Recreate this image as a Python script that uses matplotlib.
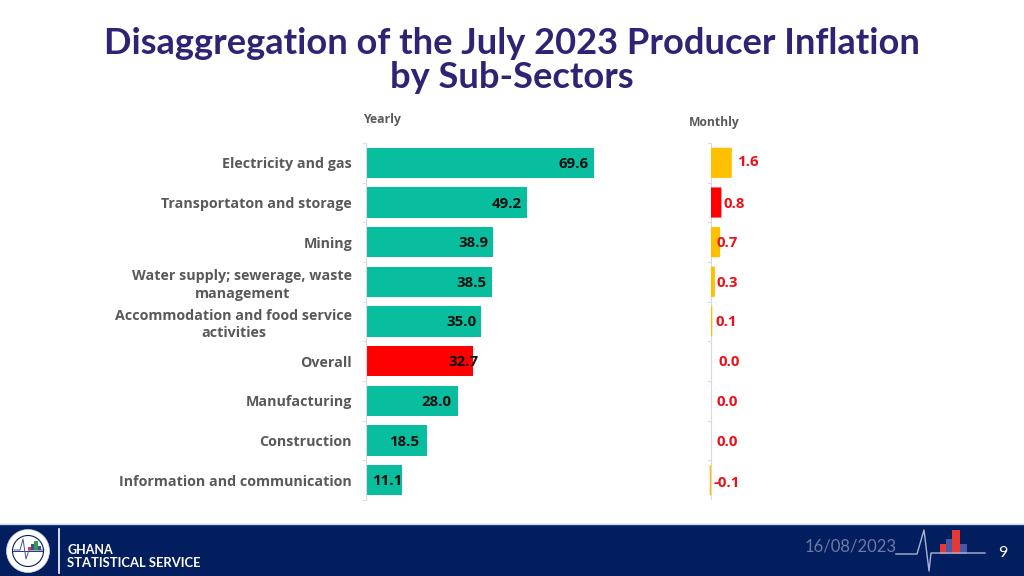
import matplotlib
matplotlib.use('Agg')
import matplotlib.pyplot as plt
from matplotlib.patches import Circle, Rectangle

plt.rcParams['font.family'] = ['Lato', 'DejaVu Sans']
LABEL_FONT = ['Open Sans', 'DejaVu Sans']

W, H = 1024, 576

categories = ['Electricity and gas', 'Transportaton and storage', 'Mining',
              'Water supply; sewerage, waste\nmanagement',
              'Accommodation and food service\nactivities', 'Overall',
              'Manufacturing', 'Construction', 'Information and communication']
yearly = [69.6, 49.2, 38.9, 38.5, 35.0, 32.7, 28.0, 18.5, 11.1]
monthly = [1.6, 0.8, 0.7, 0.3, 0.1, 0.0, 0.0, 0.0, -0.1]

TEAL = '#09BD9F'
RED = '#FF0000'
AMBER = '#FFC000'
GREY = '#595959'
TITLE = '#2F2376'
NAVY = '#021E5E'

yearly_colors = [RED if c == 'Overall' else TEAL for c in categories]
monthly_colors = [AMBER, RED, AMBER, AMBER, AMBER, AMBER, AMBER, AMBER, AMBER]

# label nudges from the bar end, in pixels
yearly_nudge = [-20, -20, -20, -21, -19, -10, -21, -22, -15]
monthly_nudge = [16, 13, 7, 12, 14, 18, 16, 16, 17]
monthly_nudge_y = [2, 0, 0, 0, 0, 0, 0, 0, -2]


def px_axes(fig, left, top, right, bottom):
    return fig.add_axes([left / W, 1 - bottom / H, (right - left) / W, (bottom - top) / H])


fig = plt.figure(figsize=(W / 100, H / 100), dpi=100, facecolor='white')

# whole-slide layer in pixel coordinates
bg = fig.add_axes([0, 0, 1, 1])
bg.set_xlim(0, W)
bg.set_ylim(H, 0)
bg.axis('off')

bg.text(511.5, 43, 'Disaggregation of the July 2023 Producer Inflation', ha='center', va='center',
        fontsize=26.1, fontweight='bold', color=TITLE)
bg.text(512, 77.5, 'by Sub-Sectors', ha='center', va='center', fontsize=26.1, fontweight='bold', color=TITLE)
bg.text(363, 120, 'Yearly', ha='left', va='center', fontsize=8.8, fontweight='bold', color=GREY, family=LABEL_FONT)
bg.text(689, 122.5, 'Monthly', ha='left', va='center', fontsize=8.7, fontweight='bold', color=GREY, family=LABEL_FONT)

# footer band
bg.add_patch(Rectangle((0, 524), W, 52, color=NAVY, lw=0))
bg.plot([0, W], [524, 524], color='#BFD9EA', lw=1)
bg.plot([59, 59], [529, 573], color='white', lw=1.2)
bg.text(67, 550, 'GHANA', color='white', fontsize=9, fontweight='bold', va='center')
bg.text(67, 563, 'STATISTICAL SERVICE', color='white', fontsize=9.4, fontweight='bold', va='center')

# logo
bg.add_patch(Circle((28, 551), 21.5, fc='white', ec='#C9D3E6', lw=0.5, zorder=3))
bg.add_patch(Circle((28, 551), 15.5, fc='white', ec=NAVY, lw=0.8, zorder=4))
bg.plot([13, 43], [551, 551], color=NAVY, lw=0.6, zorder=5)
bg.plot([14, 20, 23, 26, 29, 44], [550, 550, 539, 559, 550, 550], color='#4A4F9A', lw=0.7, zorder=5)
for x, y, w, c in [(28, 547, 3, '#E53935'), (31, 544, 3, '#3D4DA0'), (34, 541, 4, '#2E9E4F'), (38, 546, 3, '#3D4DA0')]:
    bg.add_patch(Rectangle((x, y), w, 550 - y, color=c, lw=0, zorder=6))

# date, pulse and page number
bg.text(850.5, 546, '16/08/2023', color='#6A7BA6', fontsize=12, ha='center', va='center')
bg.plot([896, 917, 924, 929, 931, 935, 940, 985], [554, 554, 530, 571, 553, 553, 553, 553], color='#A9B4D6', lw=1)
for x, y, w, c in [(940, 544, 6, '#E53935'), (946, 539, 6, '#4A57A6'), (952, 530, 8, '#E53935'), (960, 544, 7, '#4A57A6')]:
    bg.add_patch(Rectangle((x, y), w, 554 - y, color=c, lw=0))
bg.text(1003, 553, '9', color='white', fontsize=11.5, ha='center', va='center')

positions = list(range(len(categories)))
boundaries = [p - 0.5 for p in positions] + [len(categories) - 0.5]

# yearly panel
ax = px_axes(fig, 366, 143, 640, 500)
ax.patch.set_alpha(0)
ax.barh(positions, yearly, height=0.76, color=yearly_colors)
ax.set_xlim(0, 274 / 3.276)
ax.set_ylim(len(categories) - 0.5, -0.5)
ax.set_yticks(positions)
ax.set_yticklabels(categories, fontsize=10.3, fontweight='bold', color=GREY, linespacing=1.3, family=LABEL_FONT)
for lab in ax.get_yticklabels():
    lab.set_multialignment('center')
ax.tick_params(axis='y', which='major', length=0, pad=10)
ax.set_yticks(boundaries, minor=True)
ax.tick_params(axis='y', which='minor', length=3, color='#D9D9D9')
ax.xaxis.set_visible(False)
for s in ['top', 'right', 'bottom']:
    ax.spines[s].set_visible(False)
ax.spines['left'].set_color('#D9D9D9')
for p, v, n in zip(positions, yearly, yearly_nudge):
    ax.annotate(f'{v:.1f}', (v, p), xytext=(n, -1), textcoords='offset pixels', ha='center', va='center',
                fontsize=10.8, fontweight='bold', color='#111111', family=LABEL_FONT)

# monthly panel
ax2 = px_axes(fig, 680, 143, 780, 500)
ax2.patch.set_alpha(0)
bars = ax2.barh(positions, monthly, height=0.76, color=monthly_colors)
for b in bars:
    b.set_snap(False)
ax2.set_xlim(-31 / 13, 69 / 13)
ax2.set_ylim(len(categories) - 0.5, -0.5)
ax2.set_yticks([])
ax2.xaxis.set_visible(False)
for s in ax2.spines.values():
    s.set_visible(False)
ax2.axvline(0, color='#D9D9D9', lw=0.8, zorder=0)
for t in boundaries:
    ax2.plot([-3 / 13, 0], [t, t], color='#D9D9D9', lw=0.8, zorder=0)
for p, v, n, ny in zip(positions, monthly, monthly_nudge, monthly_nudge_y):
    ax2.annotate(f'{v:.1f}', (v, p), xytext=(n, ny - 1), textcoords='offset pixels', ha='center', va='center',
                 fontsize=10.8, fontweight='bold', color='#E8121A', family=LABEL_FONT)

fig.savefig('out.png', dpi=100)
